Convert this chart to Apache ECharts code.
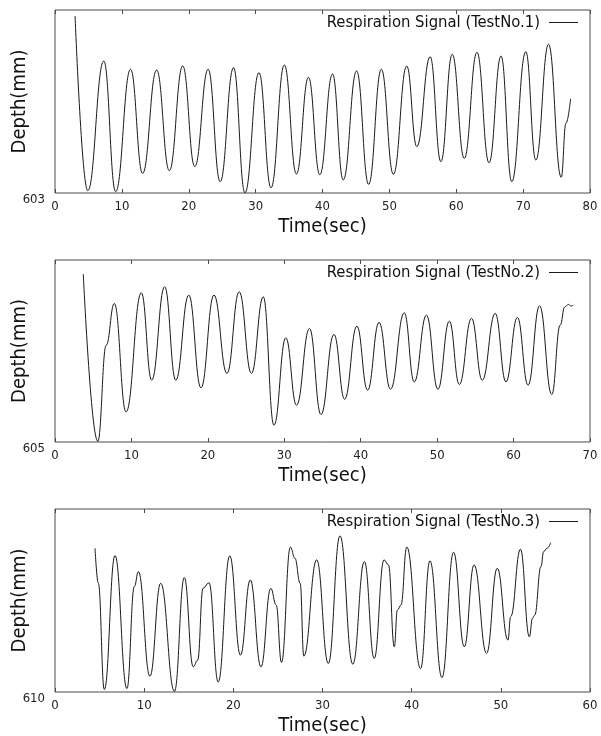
<!DOCTYPE html>
<html>
<head>
<meta charset="utf-8">
<title>Respiration Signals</title>
<script src="https://cdn.jsdelivr.net/npm/echarts@6/dist/echarts.min.js"></script>
<style>
  html, body { margin: 0; padding: 0; background: #fff; }
  #chart { width: 601px; height: 736px; }
</style>
</head>
<body>
<div id="chart"></div>
<script>
// Test 1: time (s) and chest depth (mm)
const test1Time = [3.0, 4.9, 7.3, 9.07, 11.3, 13.1, 15.2, 17.1, 19.1, 20.9, 22.9, 24.7, 26.7, 28.4,
  30.5, 32.3, 34.3, 36.1, 37.9, 39.6, 41.5, 43.1, 45.1, 46.9, 48.8, 50.6, 52.6, 54.1, 56.1, 57.7,
  59.4, 61.2, 63.1, 64.9, 66.7, 68.3, 70.4, 71.9, 73.8, 75.7, 76.4, 77.1];
const test1Depth = [617.51, 603.19, 613.82, 603.11, 613.14, 604.61, 613.08, 604.83, 613.41, 605.16,
  613.14, 603.93, 613.27, 603.02, 612.86, 603.43, 613.49, 604.56, 612.48, 604.50, 612.75, 604.07,
  613.00, 603.71, 613.14, 604.53, 613.41, 606.80, 614.17, 605.57, 614.37, 605.84, 614.53, 605.48,
  614.23, 603.93, 614.58, 605.70, 615.19, 604.29, 608.71, 610.73];

// Test 2
const test2Time = [3.7, 5.6, 6.7, 7.76, 9.3, 11.3, 12.65, 14.35, 15.8, 17.5, 19.1, 20.8, 22.5, 24.1,
  25.7, 27.25, 28.65, 30.2, 31.6, 33.3, 34.8, 36.5, 37.9, 39.5, 40.9, 42.4, 43.9, 45.7, 47.0, 48.6,
  50.1, 51.6, 52.9, 54.5, 55.9, 57.6, 59.0, 60.5, 61.9, 63.4, 65.0, 66.1, 66.7, 67.2, 67.5, 67.8];
const test2Depth = [618.84, 605.06, 612.98, 616.42, 607.48, 617.30, 610.09, 617.80, 610.09, 617.11,
  609.46, 617.11, 610.65, 617.38, 610.65, 616.97, 606.38, 613.59, 608.03, 614.36, 607.26, 613.87,
  608.52, 614.55, 609.27, 614.86, 609.35, 615.65, 609.95, 615.46, 609.35, 614.96, 609.74, 615.19,
  610.09, 615.60, 609.95, 615.27, 609.68, 616.23, 608.91, 614.63, 616.14, 616.34, 616.20, 616.28];

// Test 3
const test3Time = [4.49, 4.86, 5.53, 6.73, 8.07, 8.9, 9.35, 10.65, 11.85, 13.4, 14.5, 15.5, 16.0,
  16.6, 17.27, 18.3, 19.6, 20.8, 21.9, 23.1, 24.2, 24.8, 25.4, 26.4, 26.9, 27.5, 27.9, 29.35, 30.65,
  31.96, 33.4, 34.7, 35.8, 36.9, 37.4, 38.05, 38.4, 38.8, 39.45, 41.0, 42.05, 43.4, 44.7, 45.9,
  47.0, 48.4, 49.6, 50.8, 51.1, 52.2, 53.2, 53.55, 53.8, 54.5, 54.8, 55.2, 55.6];
const test3Depth = [621.79, 618.91, 610.20, 621.18, 610.28, 618.64, 619.87, 611.29, 618.91, 610.06,
  619.38, 612.06, 612.61, 618.50, 618.96, 610.82, 621.16, 613.02, 619.19, 612.06, 618.50, 617.13,
  612.42, 621.88, 620.97, 618.91, 612.94, 620.83, 612.34, 622.80, 612.28, 620.69, 612.75, 620.83,
  620.42, 613.70, 616.72, 617.13, 621.88, 611.92, 620.75, 611.18, 621.46, 613.70, 620.42, 613.16,
  620.15, 614.25, 616.17, 621.71, 614.52, 616.04, 616.31, 620.28, 621.51, 621.79, 622.25];

const seriesNames = ['Respiration Signal (TestNo.1)', 'Respiration Signal (TestNo.2)', 'Respiration Signal (TestNo.3)'];
const timeMax = [80, 70, 60];
const depthMin = [603, 605, 610];
const depthMax = [618, 620, 625];
const xTicks = [10, 10, 10];

const FONT = '"DejaVu Sans Condensed", "DejaVu Sans", sans-serif';
const INK = '#1a1a1a';
const FRAME = '#4a4a4a';

const panels = [
  { top: 10, height: 183 },
  { top: 260, height: 182 },
  { top: 509, height: 183 }
];

const grids = [], xAxes = [], yAxes = [], legends = [], series = [];
const times = [test1Time, test2Time, test3Time];
const depths = [test1Depth, test2Depth, test3Depth];

panels.forEach((p, i) => {
  grids.push({
    left: 55, width: 535, top: p.top, height: p.height,
    outerBoundsMode: 'none', containLabel: false,
    show: true, borderColor: FRAME, borderWidth: 1, backgroundColor: 'transparent'
  });
  // bottom axis with labels
  xAxes.push({
    type: 'value', gridIndex: i, position: 'bottom',
    min: 0, max: timeMax[i], interval: xTicks[i],
    axisLine: { show: false },
    axisTick: { show: true, inside: true, length: 4, lineStyle: { color: FRAME } },
    axisLabel: { margin: 7, fontSize: 13, color: '#222', fontFamily: FONT },
    splitLine: { show: false },
    name: 'Time(sec)', nameLocation: 'middle', nameGap: 24, nameMoveOverlap: false,
    nameTextStyle: { fontSize: 20, color: '#111', fontFamily: FONT }
  });
  // mirrored ticks along the top edge
  xAxes.push({
    type: 'value', gridIndex: i, position: 'top',
    min: 0, max: timeMax[i], interval: xTicks[i],
    axisLine: { show: false },
    axisTick: { show: true, inside: true, length: 4, lineStyle: { color: FRAME } },
    axisLabel: { show: false },
    splitLine: { show: false }
  });
  yAxes.push({
    type: 'value', gridIndex: i,
    min: depthMin[i], max: depthMax[i],
    axisLine: { show: false },
    axisTick: { show: false },
    splitLine: { show: false },
    axisLabel: {
      customValues: [depthMin[i]],
      margin: 10, fontSize: 13, color: '#222', fontFamily: FONT,
      verticalAlign: 'top'
    },
    name: 'Depth(mm)', nameLocation: 'middle', nameGap: 25, nameMoveOverlap: false,
    nameTextStyle: { fontSize: 20, color: '#111', fontFamily: FONT }
  });
  legends.push({
    data: [seriesNames[i]],
    right: 18, top: p.top - 1,
    align: 'right',
    icon: 'rect',
    itemWidth: 29, itemHeight: 1,
    itemStyle: { color: INK },
    textStyle: { fontSize: 16.5, color: '#111', fontFamily: FONT, padding: [0, 4, 0, 0] },
    selectedMode: false
  });
  series.push({
    name: seriesNames[i],
    type: 'line',
    xAxisIndex: i * 2, yAxisIndex: i,
    data: times[i].map((t, k) => [t, depths[i][k]]),
    smooth: 0.45, smoothMonotone: 'x',
    symbol: 'none', showSymbol: false,
    color: INK,
    lineStyle: { color: INK, width: 1 }
  });
});

const chart = echarts.init(document.getElementById('chart'), null, { renderer: 'canvas' });
chart.setOption({
  animation: false,
  backgroundColor: '#fff',
  grid: grids,
  xAxis: xAxes,
  yAxis: yAxes,
  legend: legends,
  series: series
});
</script>
</body>
</html>
